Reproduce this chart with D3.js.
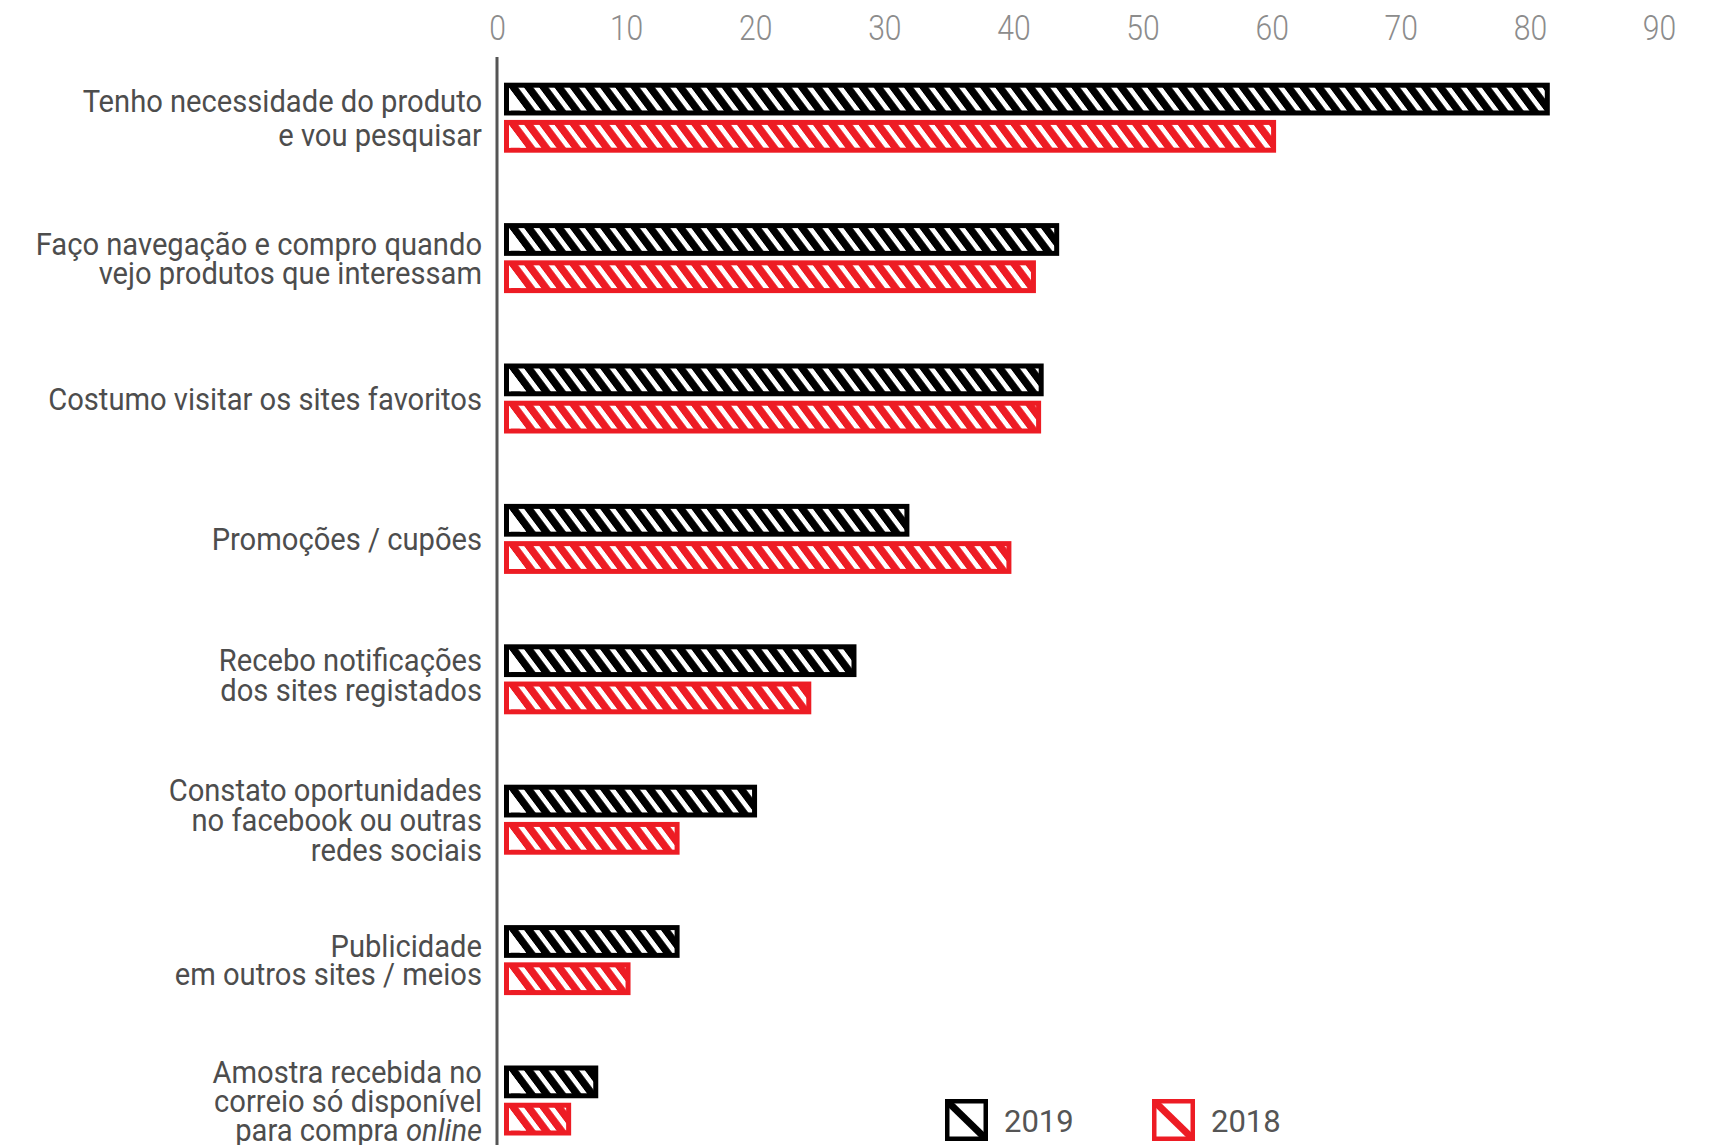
<!DOCTYPE html>
<html>
<head>
<meta charset="utf-8">
<script src="https://cdn.jsdelivr.net/npm/d3@7"></script>
<style>
  html, body { margin: 0; padding: 0; background: #fff; }
  svg { display: block; }
</style>
</head>
<body>
<svg id="chart" width="1717" height="1145"></svg>
<script>
// Survey answers (one entry per line of the label; *...* marks italic text)
const categories = [
  ["Tenho necessidade do produto", "e vou pesquisar"],
  ["Faço navegação e compro quando", "vejo produtos que interessam"],
  ["Costumo visitar os sites favoritos"],
  ["Promoções / cupões"],
  ["Recebo notificações", "dos sites registados"],
  ["Constato oportunidades", "no facebook ou outras", "redes sociais"],
  ["Publicidade", "em outros sites / meios"],
  ["Amostra recebida no", "correio só disponível", "para compra *online*"]
];
const seriesNames = ["2019", "2018"];
const values2019 = [81, 43, 41.8, 31.4, 27.3, 19.6, 13.6, 7.3];
const values2018 = [59.8, 41.2, 41.6, 39.3, 23.8, 13.6, 9.8, 5.2];
const tickValues = [0, 10, 20, 30, 40, 50, 60, 70, 80, 90];

// Layout and styling
const colors = { "2019": "#000000", "2018": "#ed1c24" };
const labelLeading = [34.5, 29, 29, 29, 30, 29.7, 28, 29];
const labelShift = [0, 0, 0, 0, -5, 0, 0, 0];
const textColor = "#4d4d4d";
const font = "Roboto, 'Open Sans', sans-serif";
const barInset = 7;          // gap between the axis line and the bars
const border = 5;            // frame thickness of each bar
const stripePeriod = 15.2;
const stripeWidth = 9.3;
const stripeSlope = 0.75;    // horizontal drift of a stripe per pixel down

const svg = d3.select("#chart");
const keys = categories.map((d, i) => i);
const seriesValues = { "2019": values2019, "2018": values2018 };

const x = d3.scaleLinear().domain([0, 90]).range([497, 1659]);
const y = d3.scalePoint().domain(keys).range([117.7, 1100.5]);
const inner = d3.scaleBand().domain(seriesNames).range([-35, 35]).paddingInner(0.12);

// Diagonal hatch patterns: coloured stripes on white
const defs = svg.append("defs");
seriesNames.forEach(s => {
  const p = defs.append("pattern")
    .attr("id", "hatch-" + s)
    .attr("patternUnits", "userSpaceOnUse")
    .attr("width", stripePeriod)
    .attr("height", 40)
    .attr("patternTransform", `skewX(${Math.atan(stripeSlope) * 180 / Math.PI})`);
  p.append("rect").attr("width", stripePeriod).attr("height", 40).attr("fill", "#fff");
  p.append("rect").attr("width", stripeWidth).attr("height", 40).attr("fill", colors[s]);
});

// Top axis
const axis = svg.append("g")
  .attr("transform", "translate(0,40)")
  .call(d3.axisTop(x).tickValues(tickValues).tickSize(0).tickPadding(0));
axis.select(".domain").remove();
axis.selectAll("text")
  .attr("y", 0)
  .attr("dy", 0)
  .attr("transform", "scale(0.86,1)")
  .style("font-family", font)
  .style("font-weight", 300)
  .style("font-size", "35px")
  .attr("fill", "#8c8c8c");

// Vertical baseline
svg.append("line")
  .attr("x1", x(0)).attr("x2", x(0))
  .attr("y1", 57).attr("y2", 1145)
  .attr("stroke", "#555").attr("stroke-width", 3);

// Bars
const rows = [];
keys.forEach(i => seriesNames.forEach(s => rows.push({ i, s, v: seriesValues[s][i] })));

const bar = svg.append("g").selectAll("g.bar")
  .data(rows).join("g")
  .attr("class", "bar")
  .attr("transform", d => `translate(${x(0) + barInset},${y(d.i) + inner(d.s)})`);

bar.append("rect")
  .attr("width", d => x(d.v) - x(0))
  .attr("height", inner.bandwidth())
  .attr("fill", d => colors[d.s]);

const fillArea = bar.append("g")
  .attr("transform", `translate(${border},${border})`);
fillArea.append("rect")
  .attr("width", d => Math.max(0, x(d.v) - x(0) - 2 * border))
  .attr("height", inner.bandwidth() - 2 * border)
  .attr("fill", d => `url(#hatch-${d.s})`);
// the hatching begins at the top-left corner, leaving a white wedge below it
fillArea.append("path")
  .attr("fill", "#fff")
  .attr("d", () => {
    const h = inner.bandwidth() - 2 * border;
    return `M0,0L${stripeSlope * h},${h}L0,${h}Z`;
  });

// Category labels
const labels = svg.append("g").attr("transform", "translate(482,0)");
categories.forEach((lines, i) => {
  const L = labelLeading[i];
  const first = y(i) + 11.3 + labelShift[i] - (lines.length - 1) * L / 2;
  const t = labels.append("text")
    .attr("text-anchor", "end")
    .attr("transform", "scale(0.94,1)")
    .style("font-family", font)
    .style("font-size", "31px")
    .attr("fill", textColor);
  lines.forEach((line, j) => {
    const parts = line.split("*");
    parts.forEach((part, k) => {
      if (!part) return;
      const ts = t.append("tspan").text(part);
      if (k % 2 === 1) ts.style("font-style", "italic");
      if (k === 0 || (k === 1 && !parts[0])) {
        ts.attr("x", 0).attr("y", first + j * L);
      }
    });
  });
});

// Legend
const legend = svg.append("g").selectAll("g")
  .data(seriesNames).join("g")
  .attr("transform", (d, i) => `translate(${945 + i * 207},1099)`);
legend.append("clipPath")
  .attr("id", d => "lg-" + d)
  .append("rect").attr("width", 43).attr("height", 42);
legend.append("rect")
  .attr("x", 2.25).attr("y", 2.25)
  .attr("width", 38.5).attr("height", 37.5)
  .attr("fill", "#fff")
  .attr("stroke", d => colors[d]).attr("stroke-width", 4.5);
legend.append("line")
  .attr("x1", 2).attr("y1", 2).attr("x2", 41).attr("y2", 40)
  .attr("clip-path", d => `url(#lg-${d})`)
  .attr("stroke", d => colors[d]).attr("stroke-width", 7);
legend.append("text")
  .attr("x", 59).attr("y", 33)
  .style("font-family", font)
  .style("font-size", "31px")
  .attr("fill", "#555")
  .text(d => d);
</script>
</body>
</html>
